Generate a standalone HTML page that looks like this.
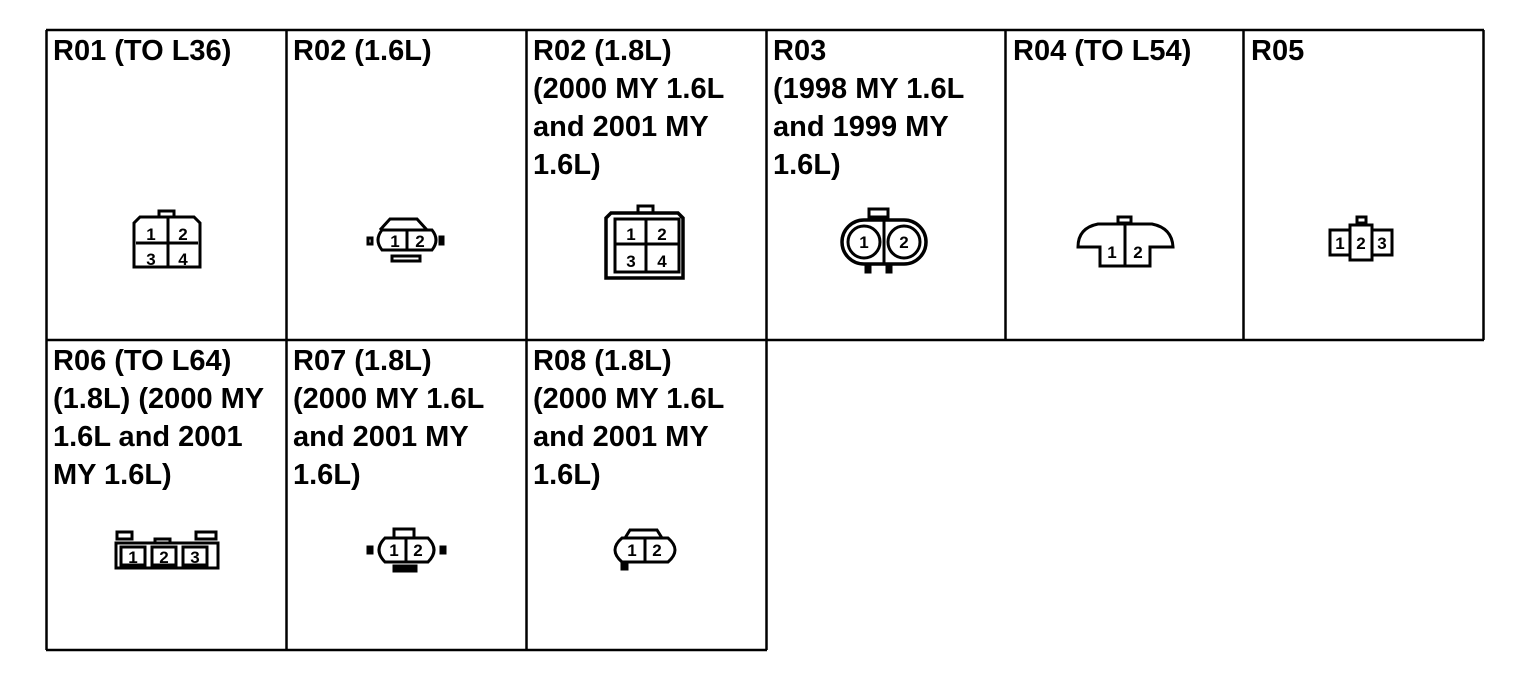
<!DOCTYPE html>
<html><head><meta charset="utf-8"><style>
html,body{margin:0;padding:0;background:#fff;}
svg{display:block}
text{font-family:"Liberation Sans",Arial,sans-serif;font-weight:bold;fill:#000}
.t{font-size:29px}
.n{font-size:17px}
</style></head><body>
<svg width="1536" height="686" viewBox="0 0 1536 686" xmlns="http://www.w3.org/2000/svg">
<g stroke="#000" stroke-width="2.5" fill="none">
<line x1="46" y1="30" x2="1484" y2="30"/>
<line x1="46" y1="340" x2="1484" y2="340"/>
<line x1="46" y1="650" x2="767" y2="650"/>
<line x1="46.5" y1="30" x2="46.5" y2="650"/>
<line x1="286.5" y1="30" x2="286.5" y2="650"/>
<line x1="526.5" y1="30" x2="526.5" y2="650"/>
<line x1="766.5" y1="30" x2="766.5" y2="650"/>
<line x1="1005.5" y1="30" x2="1005.5" y2="340"/>
<line x1="1243.5" y1="30" x2="1243.5" y2="340"/>
<line x1="1483.5" y1="30" x2="1483.5" y2="340"/>
</g>
<g class="t">
<text class="t" x="53" y="60">R01 (TO L36)</text>
<text class="t" x="293" y="60">R02 (1.6L)</text>
<text class="t" x="533" y="60">R02 (1.8L)</text>
<text class="t" x="533" y="98">(2000 MY 1.6L</text>
<text class="t" x="533" y="136">and 2001 MY</text>
<text class="t" x="533" y="174">1.6L)</text>
<text class="t" x="773" y="60">R03</text>
<text class="t" x="773" y="98">(1998 MY 1.6L</text>
<text class="t" x="773" y="136">and 1999 MY</text>
<text class="t" x="773" y="174">1.6L)</text>
<text class="t" x="1013" y="60">R04 (TO L54)</text>
<text class="t" x="1251" y="60">R05</text>
<text class="t" x="53" y="370">R06 (TO L64)</text>
<text class="t" x="53" y="408">(1.8L) (2000 MY</text>
<text class="t" x="53" y="446">1.6L and 2001</text>
<text class="t" x="53" y="484">MY 1.6L)</text>
<text class="t" x="293" y="370">R07 (1.8L)</text>
<text class="t" x="293" y="408">(2000 MY 1.6L</text>
<text class="t" x="293" y="446">and 2001 MY</text>
<text class="t" x="293" y="484">1.6L)</text>
<text class="t" x="533" y="370">R08 (1.8L)</text>
<text class="t" x="533" y="408">(2000 MY 1.6L</text>
<text class="t" x="533" y="446">and 2001 MY</text>
<text class="t" x="533" y="484">1.6L)</text>
</g>
<g stroke="#000" stroke-width="3" fill="none">
<!-- R01 -->
<rect x="159" y="211" width="15" height="6"/>
<path d="M140 217 H194 L200 223 V267 H134 V223 Z"/>
<line x1="168" y1="217" x2="168" y2="267"/><line x1="136" y1="243" x2="198" y2="243"/>
<!-- R02 1.6L -->
<path d="M380 230 L390 219 H417 L427 230"/>
<path d="M382 230 H432 Q440 240 432 250 H382 Q374 240 382 230 Z"/>
<line x1="407" y1="230" x2="407" y2="250"/>
<rect x="392" y="256" width="28" height="5"/>
<rect x="368" y="238" width="4" height="6"/><rect x="440" y="237" width="3" height="7"/>
<!-- R02 1.8L -->
<rect x="638" y="206" width="15" height="7"/>
<path d="M611 213 H678 L683 218 V278 H606 V218 Z" stroke-width="3.5"/>
<rect x="615" y="219" width="64" height="53"/>
<line x1="646" y1="219" x2="646" y2="272"/><line x1="615" y1="244" x2="679" y2="244"/>
<!-- R03 -->
<rect x="869" y="209" width="19" height="8"/>
<path d="M864 220 H904 A22 22 0 0 1 904 264 H864 A22 22 0 0 1 864 220 Z" stroke-width="3.5"/>
<circle cx="864" cy="242" r="16"/><circle cx="904" cy="242" r="16"/>
<line x1="884" y1="220" x2="884" y2="264"/>
<rect x="866" y="264" width="4" height="8" fill="#000"/><rect x="887" y="264" width="4" height="8" fill="#000"/>
<!-- R04 -->
<rect x="1118" y="217" width="13" height="6"/>
<path d="M1100 266 V247 H1078 Q1078 228 1098 224 H1152 Q1172 228 1173 247 H1150 V266 Z"/>
<line x1="1125" y1="224" x2="1125" y2="266"/>
<!-- R05 -->
<rect x="1357" y="217" width="9" height="6"/>
<rect x="1330" y="230" width="20" height="25"/>
<rect x="1350" y="225" width="22" height="35"/>
<rect x="1372" y="230" width="20" height="25"/>
<!-- R06 -->
<rect x="117" y="532" width="15" height="7"/><rect x="155" y="539" width="15" height="4"/><rect x="196" y="532" width="20" height="7"/>
<rect x="116" y="543" width="102" height="25"/>
<rect x="121" y="547" width="24" height="18"/><rect x="152" y="547" width="24" height="18"/><rect x="183" y="547" width="24" height="18"/>
<!-- R07 -->
<rect x="394" y="529" width="20" height="9"/>
<path d="M385 538 H428 Q440 550 428 562 H385 Q373 550 385 538 Z"/>
<line x1="406" y1="538" x2="406" y2="562"/>
<rect x="394" y="566" width="22" height="5" fill="#000"/>
<rect x="368" y="547" width="4" height="6" fill="#000"/><rect x="441" y="547" width="4" height="6" fill="#000"/>
<!-- R08 -->
<path d="M625 538 L630 530 H657 L662 538"/>
<path d="M622 538 H668 Q682 550 668 562 H622 Q608 550 622 538 Z"/>
<line x1="645" y1="538" x2="645" y2="562"/>
<rect x="622" y="562" width="5" height="7" fill="#000"/>
</g>
<g class="n" text-anchor="middle">
<text class="n" x="151" y="240">1</text><text class="n" x="183" y="240">2</text>
<text class="n" x="151" y="265">3</text><text class="n" x="183" y="265">4</text>
<text class="n" x="395" y="247">1</text><text class="n" x="420" y="247">2</text>
<text class="n" x="631" y="240">1</text><text class="n" x="662" y="240">2</text>
<text class="n" x="631" y="267">3</text><text class="n" x="662" y="267">4</text>
<text class="n" x="864" y="248">1</text><text class="n" x="904" y="248">2</text>
<text class="n" x="1112" y="258">1</text><text class="n" x="1138" y="258">2</text>
<text class="n" x="1340" y="249">1</text><text class="n" x="1361" y="249">2</text><text class="n" x="1382" y="249">3</text>
<text class="n" x="133" y="563">1</text><text class="n" x="164" y="563">2</text><text class="n" x="195" y="563">3</text>
<text class="n" x="394" y="556">1</text><text class="n" x="418" y="556">2</text>
<text class="n" x="632" y="556">1</text><text class="n" x="657" y="556">2</text>
</g>
</svg>
</body></html>
